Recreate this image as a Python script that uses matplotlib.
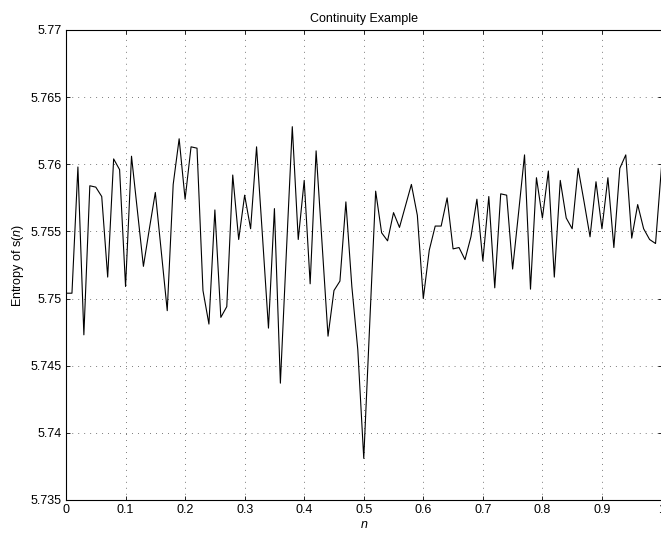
import numpy as np
import matplotlib
matplotlib.use("Agg")
import matplotlib.pyplot as plt

plt.rcParams['font.family'] = ['Liberation Sans', 'DejaVu Sans']
plt.rcParams['mathtext.fontset'] = 'custom'
plt.rcParams['mathtext.rm'] = 'Liberation Sans'
plt.rcParams['mathtext.it'] = 'Liberation Sans:italic'

title = "Continuity Example"
xlabel = "$n$"
ylabel = "Entropy of s($n$)"

n_values = np.arange(101) / 100.0
entropy = [
    5.7504, 5.7504, 5.7598, 5.7473, 5.7584, 5.7583, 5.7576, 5.7516, 5.7604, 5.7596,
    5.7509, 5.7606, 5.7565, 5.7524, 5.7552, 5.7579, 5.7535, 5.7491, 5.7585, 5.7619,
    5.7574, 5.7613, 5.7612, 5.7506, 5.7481, 5.7566, 5.7486, 5.7494, 5.7592, 5.7544,
    5.7577, 5.7552, 5.7613, 5.7546, 5.7478, 5.7567, 5.7437, 5.7534, 5.7628, 5.7544,
    5.7588, 5.7511, 5.7610, 5.7541, 5.7472, 5.7506, 5.7513, 5.7572, 5.7509, 5.7462,
    5.7381, 5.7481, 5.7580, 5.7549, 5.7543, 5.7564, 5.7553, 5.7569, 5.7585, 5.7562,
    5.7500, 5.7536, 5.7554, 5.7554, 5.7575, 5.7537, 5.7538, 5.7529, 5.7546, 5.7574,
    5.7528, 5.7576, 5.7508, 5.7578, 5.7577, 5.7522, 5.7564, 5.7607, 5.7507, 5.7590,
    5.7560, 5.7595, 5.7516, 5.7588, 5.7560, 5.7552, 5.7597, 5.7572, 5.7546, 5.7587,
    5.7552, 5.7590, 5.7538, 5.7597, 5.7607, 5.7545, 5.7570, 5.7552, 5.7544, 5.7541,
    5.7598,
]

xticks = [0, 0.1, 0.2, 0.3, 0.4, 0.5, 0.6, 0.7, 0.8, 0.9, 1]
xticklabels = ["0", "0.1", "0.2", "0.3", "0.4", "0.5", "0.6", "0.7", "0.8", "0.9", "1"]
yticks = [5.735, 5.74, 5.745, 5.75, 5.755, 5.76, 5.765, 5.77]
yticklabels = ["5.735", "5.74", "5.745", "5.75", "5.755", "5.76", "5.765", "5.77"]

W, H = 661, 533
fig = plt.figure(figsize=(W / 100, H / 100), dpi=100)
left, right, top, bottom = 66, 661.5, 30, 500
ax = fig.add_axes([left / W, (H - bottom) / H, (right - left) / W, (bottom - top) / H])

ax.plot(n_values, entropy, color='black', linewidth=0.8)
ax.set_xlim(0, 1)
ax.set_ylim(5.735, 5.77)
ax.set_xticks(xticks)
ax.set_xticklabels(xticklabels)
ax.set_yticks(yticks)
ax.set_yticklabels(yticklabels)
ax.tick_params(direction='in', top=True, right=True, length=3, width=0.6,
               labelsize=9, pad=3, colors='black')
ax.grid(True, color='black', linestyle=(0, (1, 7.6)), linewidth=0.5)
for s in ax.spines.values():
    s.set_linewidth(0.8)
    s.set_color('black')

ax.set_title(title, fontsize=9, pad=6)
ax.set_xlabel(xlabel, fontsize=9, labelpad=2)
fig.text(18 / W, 1 - 265 / H, ylabel, rotation=90, ha='center', va='center',
         fontsize=9)

fig.savefig("out.png", dpi=100)
